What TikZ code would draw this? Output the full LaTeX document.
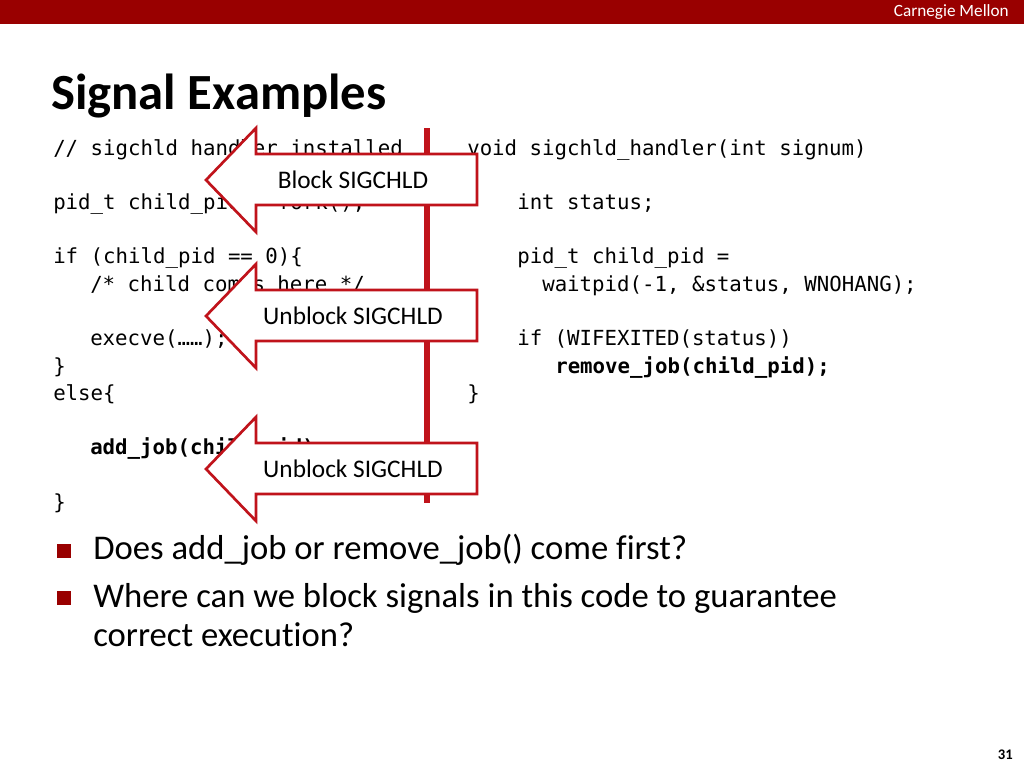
\documentclass[tikz,border=0pt]{standalone}
\usepackage{fontspec}
\setmainfont[Ligatures=NoCommon]{Carlito}
\newfontfamily\codefont{DejaVu Sans Mono}
\definecolor{cmured}{HTML}{990000}
\definecolor{arrred}{HTML}{C0131B}
\begin{document}
\begin{tikzpicture}[x=0.75pt,y=-0.75pt,
  code/.style={anchor=base west,inner sep=0pt,font=\codefont\fontsize{15.55pt}{18pt}\selectfont},
  codeb/.style={code,font=\codefont\bfseries\fontsize{15.55pt}{18pt}\selectfont},
  blockarrow/.style={draw=arrred,fill=white,line width=2pt,line join=miter},
  arrlabel/.style={inner sep=0pt,font=\fontsize{19pt}{23pt}\selectfont},
  bullet/.style={fill=cmured,minimum size=10.5pt,inner sep=0pt},
  btext/.style={anchor=base west,inner sep=0pt,font=\fontsize{26pt}{31pt}\selectfont}]
\useasboundingbox (0,0) rectangle (1024,768);
\fill[white] (0,0) rectangle (1024,768);
% header bar
\fill[cmured] (0,0) rectangle (1024,24);
\node[anchor=east,text=white,inner sep=0pt,font=\fontsize{12.9pt}{15pt}\selectfont] (brand) at (1009,12) {Carnegie Mellon};
% title
\node[anchor=base west,inner sep=0pt,font=\bfseries\fontsize{38pt}{44pt}\selectfont] (title) at (51,109) {Signal Examples};
% left code
\node[code] (l1) at (53,155) {// sigchld handler installed};
\node[code] (l2) at (53,209) {pid\_t child\_pid = fork();};
\node[code] (l3) at (53,263) {if (child\_pid == 0)\{};
\node[code] (l4) at (90,291) {/* child comes here */};
\node[code] (l5) at (90,345) {execve(……);};
\node[code] (l6) at (53,373) {\}};
\node[code] (l7) at (53,400) {else\{};
\node[codeb] (l8) at (90,454) {add\_job(child\_pid);};
\node[code] (l9) at (53,509) {\}};
% right code
\node[code] (r1) at (467,155) {void sigchld\_handler(int signum)};
\node[code] (r2) at (517,209) {int status;};
\node[code] (r3) at (517,263) {pid\_t child\_pid =};
\node[code] (r4) at (542,291) {waitpid(-1, \&status, WNOHANG);};
\node[code] (r5) at (517,345) {if (WIFEXITED(status))};
\node[codeb] (r6) at (555,373) {remove\_job(child\_pid);};
\node[code] (r7) at (467,400) {\}};
% vertical line
\coordinate (vtop) at (427,128);
\coordinate (vbot) at (427,503);
\draw[arrred,line width=4.5pt] (vtop) -- (vbot);
% block arrows
\foreach \yc/\xc/\nm/\txt in {180/353/a1/Block SIGCHLD,316/353/a2/Unblock SIGCHLD,469/353/a3/Unblock SIGCHLD}{
  \draw[blockarrow] (206,\yc) -- (256,\yc-52) -- (256,\yc-26) -- (477,\yc-26)
     -- (477,\yc+25) -- (256,\yc+25) -- (256,\yc+52) -- cycle;
  \node[arrlabel] (\nm) at (\xc,\yc) {\txt};
}
% bullets
\node[bullet] (b1) at (64,551) {};
\node[btext] (t1) at (93,559) {Does add\_job or remove\_job() come first?};
\node[bullet] (b2) at (64,598) {};
\node[btext] (t2) at (93,607) {Where can we block signals in this code to guarantee};
\node[btext] (t3) at (93,646) {correct execution?};
% page number
\node[anchor=base east,inner sep=0pt,font=\bfseries\fontsize{11pt}{13pt}\selectfont] (pg) at (1013,759) {31};
\end{tikzpicture}
\end{document}
